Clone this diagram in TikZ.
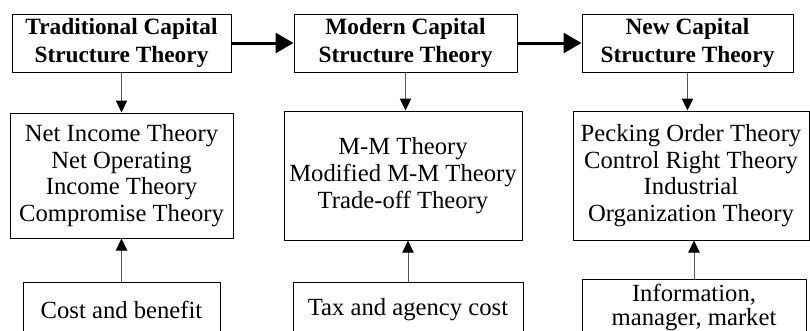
\documentclass[tikz,border=0pt]{standalone}
\usepackage{fontspec}
\setmainfont{Liberation Serif}
\usetikzlibrary{arrows.meta}

\tikzset{every picture/.style={line width=0.75pt}}
\tikzset{
  headbox/.style={draw, align=center, inner sep=0pt, font=\fontsize{17.5}{21}\selectfont\bfseries, minimum height=43.5pt},
  theorybox/.style={draw, align=center, inner sep=0pt, font=\fontsize{18.5}{20}\selectfont},
  factorbox/.style={draw, align=center, inner sep=0pt, anchor=north, font=\fontsize{18.5}{18}\selectfont},
  stagearrow/.style={line width=2.25pt, -{Triangle[length=13.5pt,width=15pt]}},
  linkarrow/.style={draw={rgb,255:red,90;green,90;blue,90}, -{Triangle[length=9pt,width=8.5pt,color=black]}}
}

\begin{document}
\begin{tikzpicture}[x=0.75pt,y=0.75pt,yscale=-1,xscale=1]
	\useasboundingbox (0,0) rectangle (810,330);

	% Stages
	\node[headbox, minimum width=164.25pt] (trad) at (121.5,43) {Traditional Capital\\Structure Theory};
	\node[headbox, minimum width=167.25pt] (modern) at (405.5,43) {Modern Capital\\Structure Theory};
	\node[headbox, minimum width=158.25pt] (new) at (687.5,43) {New Capital\\Structure Theory};

	% Theories
	\node[theorybox, minimum width=167.25pt, minimum height=93.75pt] (tradlist) at (121.5,175.5) {Net Income Theory\\Net Operating\\Income Theory\\Compromise Theory};
	\node[theorybox, minimum width=178.5pt, minimum height=96.75pt] (modernlist) at (403,175.5) {M-M Theory\\Modified M-M Theory\\Trade-off Theory};
	\node[theorybox, minimum width=177pt, minimum height=96.75pt] (newlist) at (691,175.5) {Pecking Order Theory\\Control Right Theory\\Industrial\\Organization Theory};

	% Factors
	\node[factorbox, minimum width=147.75pt, minimum height=40.5pt] (tradbase) at (121.5,282) {Cost and benefit};
	\node[factorbox, minimum width=172.5pt, minimum height=40.5pt] (modernbase) at (408,282) {Tax and agency cost};
	\node[factorbox, minimum width=168pt, minimum height=42pt] (newbase) at (694,279) {Information,\\manager, market};

	% Arrows
	\draw[stagearrow] (trad) -- (modern);
	\draw[stagearrow] (modern) -- (new);
	\draw[linkarrow] (trad.south) -- (trad.south |- tradlist.north);
	\draw[linkarrow] (modern.south) -- (modern.south |- modernlist.north);
	\draw[linkarrow] (new.south) -- (new.south |- newlist.north);
	\draw[linkarrow] (tradbase.north) -- (tradbase.north |- tradlist.south);
	\draw[linkarrow] (modernbase.north) -- (modernbase.north |- modernlist.south);
	\draw[linkarrow] (newbase.north) -- (newbase.north |- newlist.south);

\end{tikzpicture}
\end{document}
